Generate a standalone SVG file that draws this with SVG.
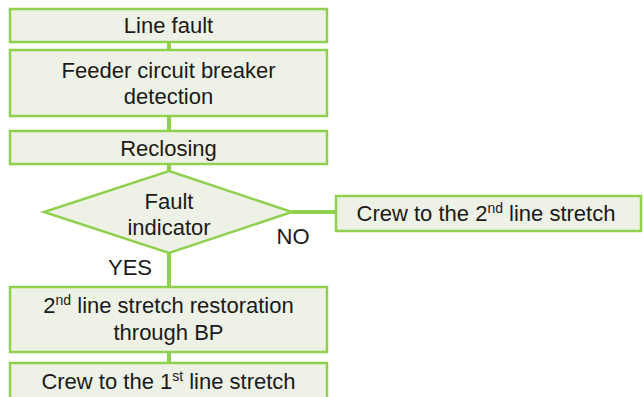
<svg xmlns="http://www.w3.org/2000/svg" width="643" height="397" viewBox="0 0 643 397">
<style>
.box{fill:#eef1e5;stroke:#8fd14f;stroke-width:2.5}
.c{stroke:#8fd14f;stroke-width:4;fill:none}
text{font-family:"Liberation Sans",Arial,sans-serif;font-size:22px;fill:#1a1a1a}
.m{text-anchor:middle}
.s{font-size:14px}
</style>
<rect width="643" height="397" fill="#ffffff"/>
<g id="connectors">
<line class="c" x1="169" y1="42" x2="169" y2="50"/>
<line class="c" x1="169" y1="116" x2="169" y2="131"/>
<line class="c" x1="169" y1="164" x2="169" y2="171"/>
<line class="c" x1="169" y1="253" x2="169" y2="288"/>
<line class="c" x1="169" y1="352" x2="169" y2="363"/>
<line class="c" x1="292" y1="212" x2="336" y2="212"/>
<text x="130" y="275" class="m">YES</text>
<text x="293" y="244" class="m">NO</text>
</g>
<g id="n1"><rect class="box" x="10" y="9" width="317" height="33"/><text x="168.5" y="33" class="m">Line fault</text></g>
<g id="n2"><rect class="box" x="10" y="50" width="317" height="66"/><text x="168.5" y="78" class="m">Feeder circuit breaker</text><text x="168.5" y="104" class="m">detection</text></g>
<g id="n3"><rect class="box" x="10" y="131" width="317" height="33"/><text x="168.5" y="156" class="m">Reclosing</text></g>
<g id="n4"><polygon class="box" points="169,171 292,212 169,253 44,212"/><text x="169" y="209" class="m">Fault</text><text x="169" y="235" class="m">indicator</text></g>
<g id="n5"><rect class="box" x="336" y="196" width="305" height="35"/><text x="486" y="221" class="m">Crew to the 2<tspan class="s" dy="-8">nd</tspan><tspan dy="8"> line stretch</tspan></text></g>
<g id="n6"><rect class="box" x="10" y="287" width="317" height="65"/><text x="168.5" y="313" class="m">2<tspan class="s" dy="-8">nd</tspan><tspan dy="8"> line stretch restoration</tspan></text><text x="168.5" y="340" class="m">through BP</text></g>
<g id="n7"><rect class="box" x="10" y="363" width="317" height="40"/><text x="168.5" y="389" class="m">Crew to the 1<tspan class="s" dy="-8">st</tspan><tspan dy="8"> line stretch</tspan></text></g>
</svg>
